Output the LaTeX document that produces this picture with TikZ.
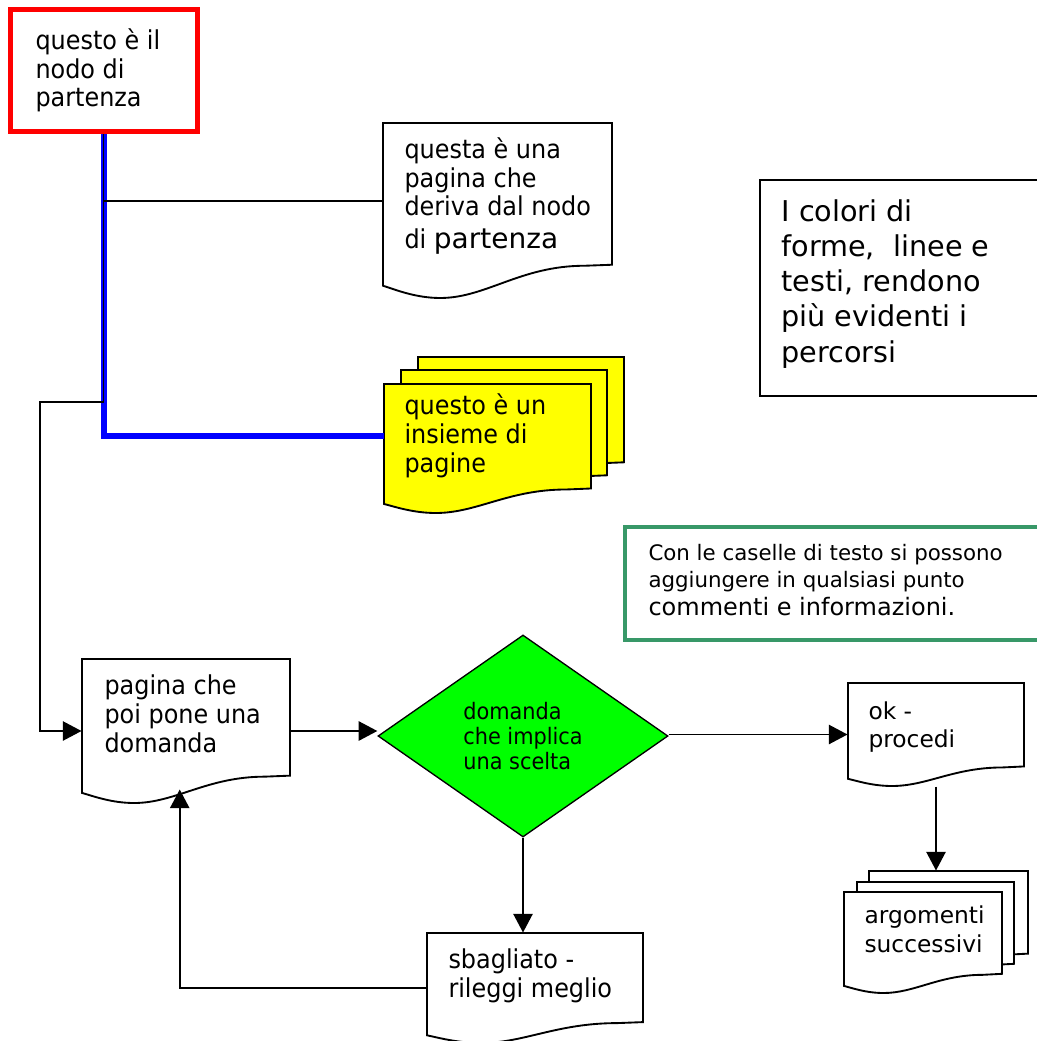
\documentclass[tikz,border=0pt]{standalone}
\usepackage{fontspec}
\setmainfont{DejaVu Sans}
\newfontfamily\stretto[FakeStretch=0.92]{DejaVu Sans}
\usetikzlibrary{arrows.meta,shapes.geometric,fit,calc}

\definecolor{verdebordo}{RGB}{56,152,104}
\definecolor{giallo}{RGB}{255,255,0}
\definecolor{verde}{RGB}{0,255,0}

\tikzset{every picture/.style={line width=0.75pt}}
\tikzset{
  testo/.style={anchor=base west, align=left, inner sep=0pt, font=\stretto\fontsize{19.5}{21.5}\selectfont},
  rombo/.style={diamond, draw, line width=1pt, fill=verde, minimum width=217.5pt, minimum height=151.5pt,
    inner sep=0pt, align=left, font=\stretto\fontsize{17}{19}\selectfont},
  freccia/.style={line width=1.2pt, -{Triangle[length=14pt,width=14.5pt]}},
  linea/.style={line width=1.2pt},
  blu/.style={draw=blue, line width=4.5pt}
}

% pagina con il bordo inferiore ondulato: nome, sinistra, alto, destra, fondo
\newcommand{\foglio}[6][white]{%
  \pgfmathsetmacro{\lfoglio}{#5-#3}%
  \pgfmathsetmacro{\afoglio}{#6-#4}%
  \draw[line width=1.4pt, fill=#1] (#3,#4) -- (#5,#4) -- (#5,{#4+0.81*\afoglio})
    -- ({#5-0.12*\lfoglio},{#4+0.81*\afoglio+1})
    .. controls ({#5-0.4*\lfoglio},{#4+0.81*\afoglio+1}) and ({#3+0.45*\lfoglio},#6) .. ({#3+0.25*\lfoglio},#6)
    .. controls ({#3+0.14*\lfoglio},#6) and ({#3+0.05*\lfoglio},{#4+0.95*\afoglio}) .. (#3,{#4+0.93*\afoglio}) -- cycle;
  \node[fit={(#3,#4) (#5,#6)}, inner sep=0pt] (#2) {};
}

\begin{document}
\begin{tikzpicture}[x=0.75pt,y=0.75pt,yscale=-1,xscale=1]
\useasboundingbox (0,0) rectangle (1037,1041);
\clip (0,0) rectangle (1037,1041);

% nodo di partenza (i testi sono posti sulla linea di base dell'ultima riga)
\node[fit={(10,10) (197,132)}, inner sep=0pt, draw=red, line width=3.75pt] (partenza) {};
\node[testo] (partenza-t) at (35,107) {questo è il\\nodo di\\partenza};

% pagine
\foglio{questa}{383}{123}{612}{298}
\node[testo] (questa-t) at (404,248) {questa è una\\pagina che\\deriva dal nodo\\[2.5pt]di {\rmfamily\fontsize{21}{24}\selectfont partenza}};

\foglio[giallo]{insieme-c}{418}{357}{624}{487}
\foglio[giallo]{insieme-b}{401}{370}{607}{500}
\foglio[giallo]{insieme}{384}{384}{591}{513}
\node[testo] (insieme-t) at (404,472) {questo è un\\insieme di\\pagine};

\foglio{pagina}{82}{659}{290}{803}
\node[testo] (pagina-t) at (104,752) {pagina che\\poi pone una\\domanda};

\foglio{ok}{848}{683}{1024}{786}
\node[testo, font=\fontsize{17.5}{21}\selectfont] (ok-t) at (868,747) {ok -\\procedi};

\foglio{sbagliato}{427}{933}{643}{1043}
\node[testo] (sbagliato-t) at (448,997) {sbagliato -\\rileggi meglio};

\foglio{argomenti-c}{869}{871}{1028}{973}
\foglio{argomenti-b}{857}{882}{1014}{983}
\foglio{argomenti}{844}{892}{1002}{993}
\node[testo, font=\fontsize{17.5}{21.75}\selectfont] (argomenti-t) at (864,952) {argomenti\\successivi};

% domanda
\node[rombo] (domanda) at (523,736) {domanda\\che implica\\una scelta};

% caselle di testo
\node[fit={(760,180) (1050,396)}, inner sep=0pt, draw, line width=1.3pt] (colori) {};
\node[testo, font=\fontsize{21.5}{26.4}\selectfont] (colori-t) at (781,362) {I colori di\\forme,~ linee e\\testi, rendono\\più evidenti i\\percorsi};

\node[fit={(625,527) (1050,640)}, inner sep=0pt, draw=verdebordo, line width=3.4pt] (caselle) {};
\node[testo, font=\fontsize{16}{20.25}\selectfont] (caselle-t) at (648,615) {Con le caselle di testo si possono\\aggiungere in qualsiasi punto\\[0.75pt]{\fontsize{18}{21}\selectfont commenti e informazioni.}};

% collegamenti
\coordinate (gomito) at (40,402);
\coordinate (questa-ramo) at ($(questa.west)+(0,-9.5)$);
\coordinate (ritorno) at ($(pagina.south west)!0.47!(pagina.south east)+(0,-14)$);

\draw[blu] (partenza.south) |- ($(insieme.west)+(0,-13)$);
\draw[linea] (partenza.south |- questa-ramo) -- (questa-ramo);
\draw[freccia] (partenza.south) |- (gomito) |- (pagina.west);
\draw[freccia] (pagina.east) -- (pagina.east -| domanda.west);
\draw[freccia] (domanda.east |- ok.west) -- (ok.west);
\draw[freccia] (domanda.south) -- (domanda.south |- sbagliato.north);
\draw[freccia] (sbagliato.west) -| (ritorno);
\draw[freccia] (ok.south) -- (ok.south |- argomenti-c.north);

\end{tikzpicture}
\end{document}
